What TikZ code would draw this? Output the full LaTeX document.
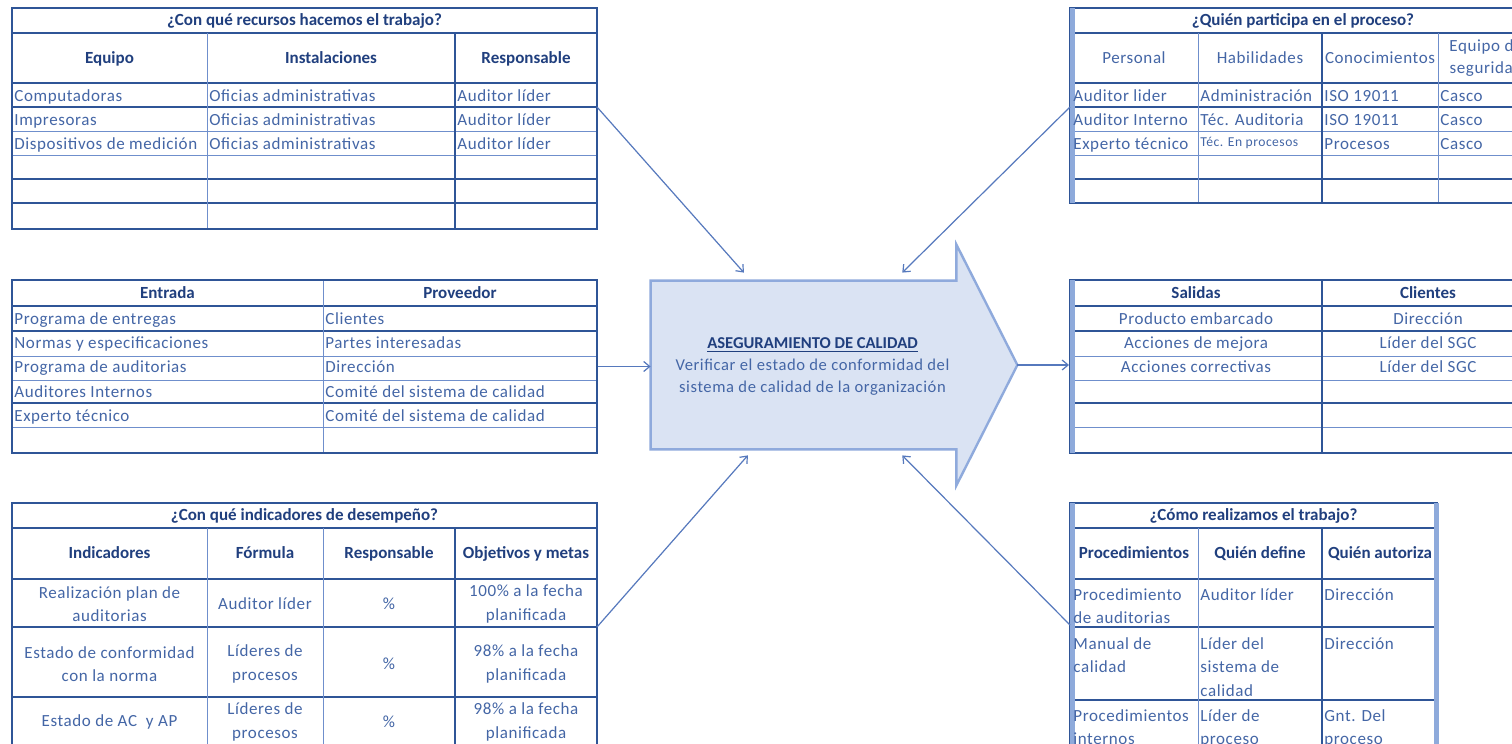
\documentclass[tikz,border=0pt]{standalone}
\usepackage{fontspec}
\setmainfont{Carlito}
\newfontfamily\cellfont{Carlito}[LetterSpace=3.5]
\usetikzlibrary{positioning,fit,calc,arrows.meta}

\definecolor{rulebl}{HTML}{2F5597}
\definecolor{thinbl}{HTML}{6F8FCC}
\definecolor{barbl}{HTML}{8EAADB}
\definecolor{txtbl}{HTML}{4466A6}
\definecolor{hdrbl}{HTML}{203F7E}
\definecolor{procfill}{HTML}{DAE3F3}
\definecolor{procedge}{HTML}{8FAADC}
\definecolor{linkbl}{HTML}{5679BD}

\begin{document}
\begin{tikzpicture}[x=0.5pt, y=-0.5pt,
    cell/.style={font=\cellfont\fontsize{8.5}{11.75}\selectfont, text=txtbl, inner sep=0pt},
    lcell/.style={cell, anchor=base west},
    ccell/.style={cell, anchor=base},
    mcell/.style={cell, align=center},
    tcell/.style={cell, align=left, anchor=north west},
    hcell/.style={ccell, font=\fontsize{8.5}{11.75}\selectfont\bfseries, text=hdrbl},
    tline/.style={draw=thinbl, line width=0.5pt},
    tlinex/.style={draw=rulebl, line width=0.9pt},
    tframe/.style={draw=rulebl, line width=1pt, inner sep=0pt},
    tbar/.style={draw=barbl, line width=2.5pt},
    link/.style={-{Straight Barb[length=3pt,width=5pt]}, draw=linkbl, line width=0.6pt}
]
\useasboundingbox (0,0) rectangle (1512,744);
\fill[white] (0,0) rectangle (1512,744);
\clip (0,0) rectangle (1512,744);

% Resources (top left)
\foreach \y in {131,155} \draw[tline] (12,\y) -- (597,\y);
\foreach \y in {33,83,107,179,203} \draw[tlinex] (12,\y) -- (597,\y);
\draw[tline] (207,33) -- (207,229);
\draw[tlinex] (455,33) -- (455,229);
\node[tframe, fit={(12,8) (597,229)}] (res) {};
\node[hcell] (res-t) at (304.5,25.5) {¿Con qué recursos hacemos el trabajo?};
\node[hcell] (res-h1) at (109.5,63) {Equipo};
\node[hcell] (res-h2) at (331,63) {Instalaciones};
\node[hcell] (res-h3) at (526,63) {Responsable};
\foreach \a/\b/\c [count=\i] in {Computadoras/Oficias administrativas/Auditor líder,
    Impresoras/Oficias administrativas/Auditor líder,
    Dispositivos de medición/Oficias administrativas/Auditor líder} {
  \node[lcell] (res-\i-1) at (14,{77+24*\i}) {\a};
  \node[lcell] (res-\i-2) at (209,{77+24*\i}) {\b};
  \node[lcell] (res-\i-3) at (457,{77+24*\i}) {\c};
}
\coordinate (res-out) at (597,107);

% Participants (top right)
\foreach \y in {131,155} \draw[tline] (1070,\y) -- (1536,\y);
\foreach \y in {33,83,107,179} \draw[tlinex] (1070,\y) -- (1536,\y);
\draw[tline] (1198,33) -- (1198,203);
\draw[tlinex] (1322,33) -- (1322,203);
\draw[tline] (1438,33) -- (1438,203);
\node[tframe, fit={(1070,8) (1536,203)}] (par) {};
\draw[tbar] (1072.5,8) -- (1072.5,203);
\node[hcell] (par-t) at (1303,25.5) {¿Quién participa en el proceso?};
\node[ccell] (par-h1) at (1134,63) {Personal};
\node[ccell] (par-h2) at (1260,63) {Habilidades};
\node[ccell] (par-h3) at (1380,63) {Conocimientos};
\node[mcell, font=\cellfont\fontsize{8.5}{11}\selectfont] (par-h4) at (1486,58) {Equipo de\\seguridad};
\foreach \a/\b/\c/\d [count=\i] in {Auditor lider/Administración/ISO 19011/Casco,
    Auditor Interno/Téc. Auditoria/ISO 19011/Casco} {
  \node[lcell] (par-\i-1) at (1073,{77+24*\i}) {\a};
  \node[lcell] (par-\i-2) at (1200,{77+24*\i}) {\b};
  \node[lcell] (par-\i-3) at (1324,{77+24*\i}) {\c};
  \node[lcell] (par-\i-4) at (1440,{77+24*\i}) {\d};
}
\node[lcell] (par-3-1) at (1073,149) {Experto técnico};
\node[lcell, font=\cellfont\fontsize{6.8}{8}\selectfont] (par-3-2) at (1200,146) {Téc. En procesos};
\node[lcell] (par-3-3) at (1324,149) {Procesos};
\node[lcell] (par-3-4) at (1440,149) {Casco};
\coordinate (par-out) at (1070,107);

% Inputs (middle left)
\foreach \y in {356,380,427} \draw[tline] (12,\y) -- (597,\y);
\foreach \y in {306,331,403} \draw[tlinex] (12,\y) -- (597,\y);
\draw[tline] (323,280) -- (323,453);
\node[tframe, fit={(12,280) (597,453)}] (ent) {};
\node[hcell] (ent-h1) at (167.5,298) {Entrada};
\node[hcell] (ent-h2) at (460,298) {Proveedor};
\foreach \a/\b [count=\i] in {Programa de entregas/Clientes,
    Normas y especificaciones/Partes interesadas,
    Programa de auditorias/Dirección,
    Auditores Internos/Comité del sistema de calidad,
    Experto técnico/Comité del sistema de calidad} {
  \node[lcell] (ent-\i-1) at (14,{300+24.3*\i}) {\a};
  \node[lcell] (ent-\i-2) at (325,{300+24.3*\i}) {\b};
}

% Outputs (middle right)
\foreach \y in {356,380,427} \draw[tline] (1070,\y) -- (1536,\y);
\foreach \y in {306,331,403} \draw[tlinex] (1070,\y) -- (1536,\y);
\draw[tlinex] (1322,280) -- (1322,453);
\node[tframe, fit={(1070,280) (1536,453)}] (sal) {};
\draw[tbar] (1072.5,280) -- (1072.5,453);
\node[hcell] (sal-h1) at (1196,298) {Salidas};
\node[hcell] (sal-h2) at (1428,298) {Clientes};
\foreach \a/\b [count=\i] in {Producto embarcado/Dirección,
    Acciones de mejora/Líder del SGC,
    Acciones correctivas/Líder del SGC} {
  \node[ccell] (sal-\i-1) at (1196,{300+24.3*\i}) {\a};
  \node[ccell] (sal-\i-2) at (1428,{300+24.3*\i}) {\b};
}

% Indicators (bottom left)
\foreach \y in {528,579,627,697} \draw[tlinex] (12,\y) -- (597,\y);
\draw[tline] (207,528) -- (207,752);
\draw[tline] (323,528) -- (323,752);
\draw[tlinex] (455,528) -- (455,752);
\node[tframe, fit={(12,503) (597,752)}] (ind) {};
\node[hcell] (ind-t) at (304.5,520.5) {¿Con qué indicadores de desempeño?};
\node[hcell] (ind-h1) at (109.5,558.5) {Indicadores};
\node[hcell] (ind-h2) at (265,558.5) {Fórmula};
\node[hcell] (ind-h3) at (389,558.5) {Responsable};
\node[hcell] (ind-h4) at (526,558.5) {Objetivos y metas};
\foreach \a/\b/\d/\y [count=\i] in {Realización plan de\\auditorias/Auditor líder/100\% a la fecha\\planificada/604,
    Estado de conformidad\\con la norma/Líderes de\\procesos/98\% a la fecha\\planificada/664,
    Estado de AC\ \ y AP/Líderes de\\procesos/98\% a la fecha\\planificada/722} {
  \node[mcell] (ind-\i-1) at (109.5,\y) {\a};
  \node[mcell] (ind-\i-2) at (265,\y) {\b};
  \node[mcell] (ind-\i-3) at (389,\y) {\%};
  \node[mcell] (ind-\i-4) at (526,\y) {\d};
}
\coordinate (ind-out) at (597,627);

% Procedures (bottom right)
\foreach \y in {528,579,627,700} \draw[tlinex] (1070,\y) -- (1437,\y);
\draw[tline] (1198,528) -- (1198,760);
\draw[tlinex] (1322,528) -- (1322,760);
\node[tframe, fit={(1070,503) (1437,760)}] (com) {};
\draw[tbar] (1072.5,503) -- (1072.5,760);
\draw[tbar] (1436,503) -- (1436,760);
\node[hcell] (com-t) at (1253.5,520.5) {¿Cómo realizamos el trabajo?};
\node[hcell] (com-h1) at (1134,558.5) {Procedimientos};
\node[hcell] (com-h2) at (1260,558.5) {Quién define};
\node[hcell] (com-h3) at (1380,558.5) {Quién autoriza};
\foreach \a/\b/\c/\y [count=\i] in {Procedimiento\\de auditorias/Auditor líder/Dirección/588,
    Manual de\\calidad/Líder del\\sistema de\\calidad/Dirección/637,
    Procedimientos\\internos/Líder de\\proceso/Gnt. Del\\proceso/709} {
  \node[tcell] (com-\i-1) at (1073,\y) {\a};
  \node[tcell] (com-\i-2) at (1200,\y) {\b};
  \node[tcell] (com-\i-3) at (1324,\y) {\c};
}
\coordinate (com-out) at (1070,625);

% Process arrow
\node[minimum width=152.5pt, minimum height=84pt, inner sep=0pt] (proc) at (803.5,365) {};
\coordinate (tip) at ($(proc.east)+(61,0)$);
\path[draw=procedge, fill=procfill, line width=1.2pt]
  (proc.north west) -- (proc.north east) -- ++(0,-36) -- (tip)
  -- ($(proc.south east)+(0,36)$) -- (proc.south east) -- (proc.south west) -- cycle;
\node[cell, align=center, font=\cellfont\fontsize{8.3}{11}\selectfont] (lbl) at ($(proc.center)+(9,1)$)
  {{\normalfont\fontsize{8.3}{11}\selectfont\color{hdrbl}\bfseries\underline{ASEGURAMIENTO DE CALIDAD}}\\
   Verificar el estado de conformidad del\\
   sistema de calidad de la organización};

% Connectors
\coordinate (in-tl) at ($(proc.north west)!0.305!(proc.north east)+(0,-8)$);
\coordinate (in-tr) at ($(proc.north west)!0.823!(proc.north east)+(0,-8)$);
\coordinate (in-bl) at ($(proc.south west)!0.318!(proc.south east)+(0,6)$);
\coordinate (in-br) at ($(proc.south west)!0.823!(proc.south east)+(0,6)$);
\draw[link] (res-out) -- (in-tl);
\draw[link] (par-out) -- (in-tr);
\draw[link] (ent.east) -- (ent.east -| proc.west);
\draw[link] (tip) -- (tip -| sal.west);
\draw[link] (ind-out) -- (in-bl);
\draw[link] (com-out) -- (in-br);

\end{tikzpicture}
\end{document}
